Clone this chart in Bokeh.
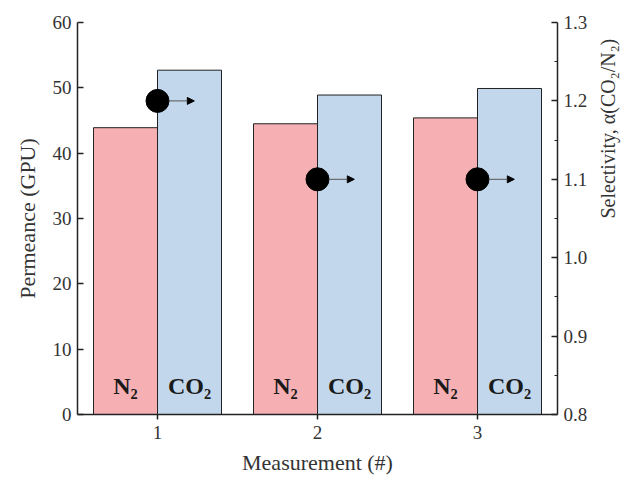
from bokeh.plotting import figure
from bokeh.models import (Range1d, LinearAxis, FixedTicker, ColumnDataSource,
                          Arrow, NormalHead, CustomJSTickFormatter)
from bokeh.transform import dodge
from bokeh.core.properties import value
from bokeh.embed import file_html
from bokeh.resources import INLINE
import math

# ---- data ----
measurement = [1, 2, 3]
n2_permeance = [43.9, 44.5, 45.4]
co2_permeance = [52.7, 48.9, 49.9]
selectivity = [1.2, 1.1, 1.1]
gas_labels = ["N₂", "CO₂"]
left_ticks = [0, 10, 20, 30, 40, 50, 60]
right_ticks = [0.8, 0.9, 1.0, 1.1, 1.2, 1.3]

FONT = "Liberation Serif"
N2_COLOR = "#F6AFB3"
CO2_COLOR = "#C2D7EB"

src = ColumnDataSource(dict(m=measurement, n2=n2_permeance, co2=co2_permeance,
                            sel=selectivity,
                            lab_n2=[gas_labels[0]] * len(measurement),
                            lab_co2=[gas_labels[1]] * len(measurement),
                            label_y=[4.4] * len(measurement)))

p = figure(frame_width=480, frame_height=392,
           x_range=Range1d(0.5, 3.5), y_range=Range1d(0, 60),
           output_backend="svg", toolbar_location=None,
           min_border_left=77, min_border_top=22,
           min_border_right=70, min_border_bottom=64)
p.outline_line_color = None
p.xgrid.visible = False
p.ygrid.visible = False
p.background_fill_color = "white"
p.border_fill_color = "white"

p.extra_y_ranges = {"sel": Range1d(0.8, 1.3)}

# bars
p.vbar(x=dodge("m", -0.2, range=p.x_range), top="n2", width=0.4, bottom=0,
       source=src, fill_color=N2_COLOR, line_color="#222222", line_width=1)
p.vbar(x=dodge("m", 0.2, range=p.x_range), top="co2", width=0.4, bottom=0,
       source=src, fill_color=CO2_COLOR, line_color="#222222", line_width=1)

# bar labels
for off, col in ((-0.2, "lab_n2"), (0.2, "lab_co2")):
    p.text(x=dodge("m", off, range=p.x_range), y="label_y", text=col, source=src,
           text_font=value(FONT), text_font_style="bold", text_font_size="24px",
           text_align="center", text_baseline="middle", text_color="#1a1a1a")

# arrows pointing to right axis
arrow_src = ColumnDataSource(dict(xs=[m + 0.07 for m in measurement],
                                  xe=[m + 0.23 for m in measurement],
                                  y=selectivity))
arr = Arrow(end=NormalHead(size=7, fill_color="black", line_color="black", line_width=1),
            x_start="xs", y_start="y", x_end="xe", y_end="y", source=arrow_src,
            line_color="#555555", line_width=1, y_range_name="sel")
p.add_layout(arr)

# selectivity points
p.scatter(x="m", y="sel", source=src, size=23, fill_color="black",
          line_color="black", y_range_name="sel")

# axes styling
def style_axis(ax):
    ax.axis_line_color = "#222222"
    ax.axis_line_width = 1.5
    ax.major_tick_line_color = "#222222"
    ax.major_tick_line_width = 1.5
    ax.minor_tick_line_color = "#222222"
    ax.major_label_text_font = FONT
    ax.major_label_text_font_size = "19px"
    ax.major_label_text_color = "#333333"
    ax.axis_label_text_font = FONT
    ax.axis_label_text_font_size = "22px"
    ax.axis_label_text_font_style = "normal"
    ax.axis_label_text_color = "#333333"

xa = p.xaxis[0]
style_axis(xa)
xa.ticker = FixedTicker(ticks=measurement, minor_ticks=[])
xa.major_tick_in = 0
xa.major_tick_out = 5
xa.major_label_standoff = 6
xa.axis_label = "Measurement (#)"
xa.axis_label_standoff = 8

ya = p.yaxis[0]
style_axis(ya)
ya.ticker = FixedTicker(ticks=left_ticks, minor_ticks=[])
ya.major_tick_in = 6
ya.major_tick_out = 0
ya.major_label_standoff = 6
ya.axis_label = "Permeance (GPU)"
ya.axis_label_standoff = 10

minor_right = [round(t + 0.05, 2) for t in right_ticks[:-1]]
ra = LinearAxis(y_range_name="sel")
style_axis(ra)
ra.ticker = FixedTicker(ticks=right_ticks, minor_ticks=minor_right)
ra.formatter = CustomJSTickFormatter(code="return tick.toFixed(1);")
ra.major_tick_in = 6
ra.major_tick_out = 0
ra.minor_tick_in = 3
ra.minor_tick_out = 0
ra.major_label_standoff = 6
ra.axis_label = "Selectivity, α(CO₂/N₂)"
ra.axis_label_text_font_size = "20px"
ra.axis_label_standoff = 18
if "axis_label_orientation" in ra.properties():
    ra.axis_label_orientation = math.pi / 2
p.add_layout(ra, "right")

open("out.html", "w").write(file_html(p, INLINE))
